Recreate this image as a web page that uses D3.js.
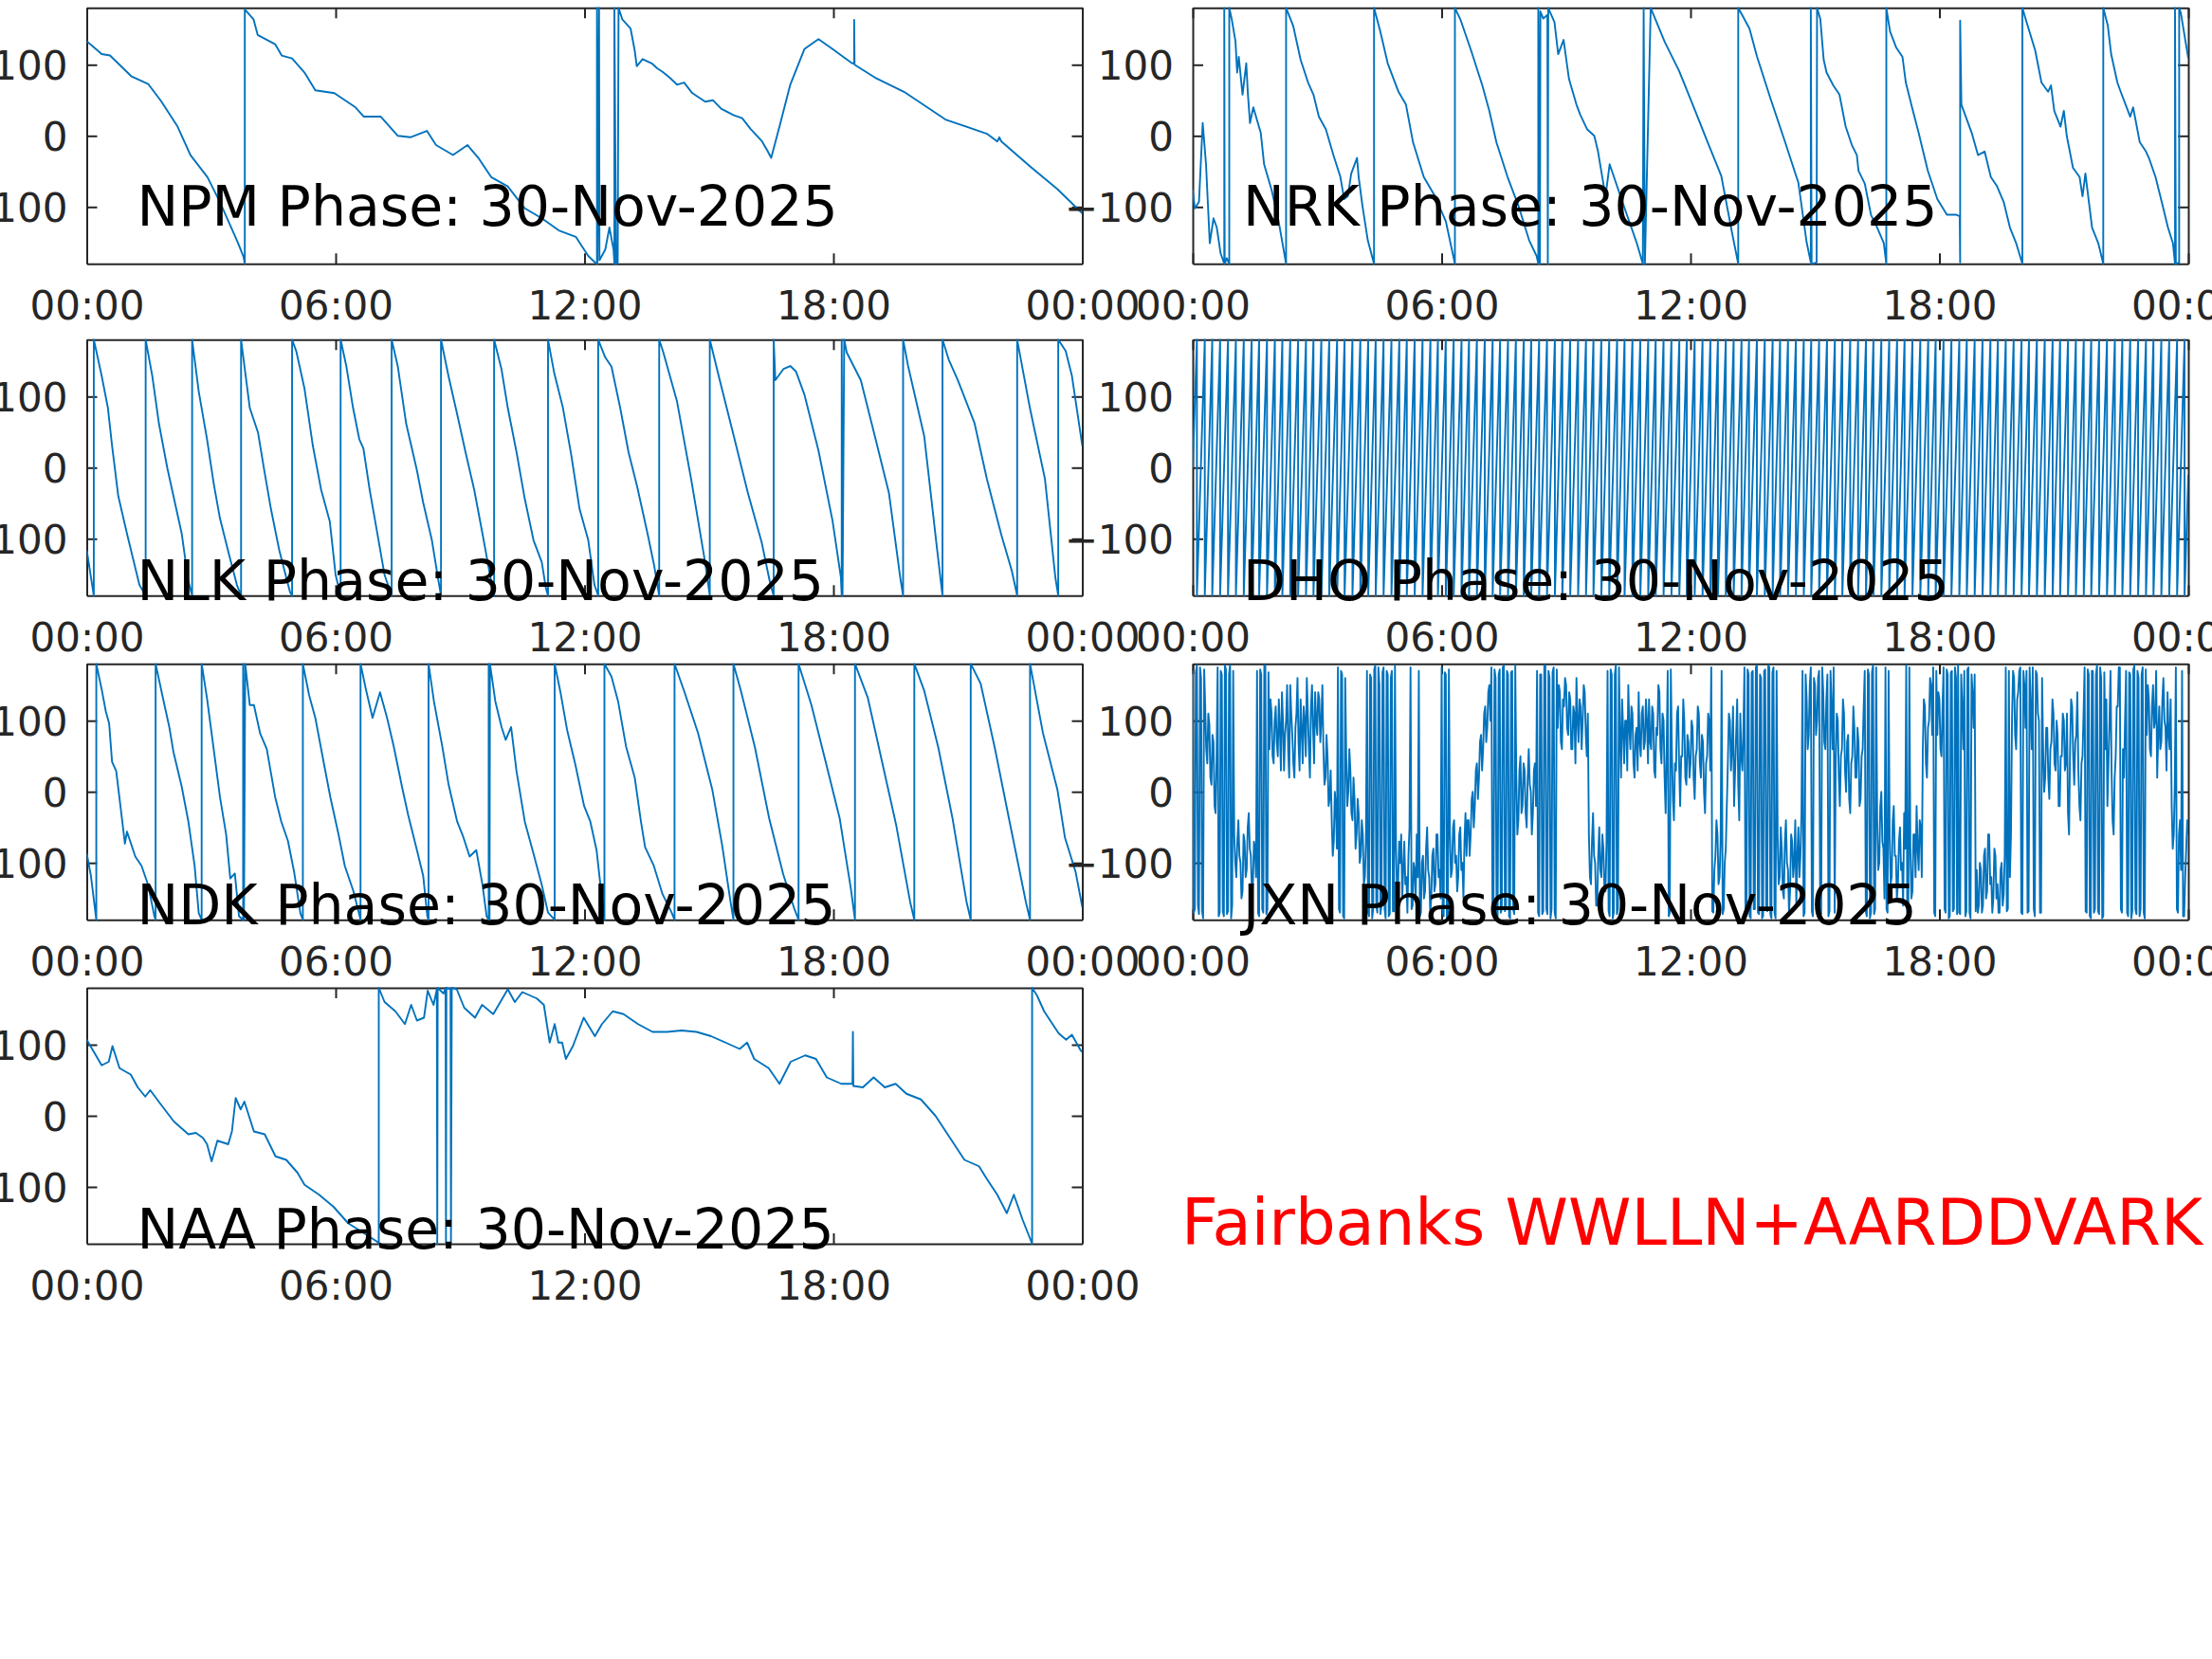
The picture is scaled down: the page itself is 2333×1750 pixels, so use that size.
<!DOCTYPE html>
<html>
<head>
<meta charset="utf-8">
<script src="https://cdn.jsdelivr.net/npm/d3@7"></script>
<style>
  body { margin: 0; background: #fff; }
  svg { display: block; }
  text { font-family: "DejaVu Sans", sans-serif; }
</style>
</head>
<body>
<svg id="fig" width="2333" height="1750"></svg>
<script>
// phase readings, [hour, degrees]
const npm = [[0,133],[0.36,115],[0.56,113],[1.07,84],[1.48,73],[1.79,49],[2.19,13],[2.5,-27],[2.91,-58],[3.21,-93],[3.62,-147],[3.78,-170],[3.81,-180],[3.81,178],[4.02,164],[4.12,142],[4.54,129],[4.7,113],[4.95,109],[5.25,89],[5.51,64],[5.97,60],[6.48,40],[6.68,27],[7.09,27],[7.5,0],[7.8,-2],[8.2,7],[8.42,-13],[8.83,-27],[9.18,-13],[9.44,-31],[9.75,-58],[10.15,-71],[10.56,-102],[10.97,-116],[11.38,-133],[11.79,-142],[12.09,-169],[12.25,-178],[12.3,-180],[12.3,180],[12.31,-180],[12.35,180],[12.36,-175],[12.5,-160],[12.6,-129],[12.7,-160],[12.72,-180],[12.72,180],[12.76,-180],[12.8,-178],[12.82,180],[12.91,164],[13.11,151],[13.21,120],[13.26,98],[13.4,108],[13.62,102],[13.75,95],[13.88,90],[14.05,82],[14.23,72],[14.4,75],[14.6,60],[14.91,48],[15.1,50],[15.3,38],[15.6,29],[15.8,25],[16.0,10],[16.27,-7],[16.4,-20],[16.5,-31],[16.7,13],[16.96,72],[17.3,122],[17.64,136],[17.98,122],[18.45,102],[18.5,102],[18.5,163],[18.51,100],[19.0,82],[19.7,62],[20.7,23],[21.7,3],[21.95,-8],[22.0,-2],[22.05,-8],[22.74,-43],[23.4,-75],[24,-109]]

const nrk = [[0,-76],[0.05,-102],[0.15,-93],[0.24,18],[0.32,-40],[0.41,-151],[0.5,-116],[0.58,-129],[0.67,-165],[0.76,-180],[0.76,180],[0.77,-180],[0.82,-172],[0.88,-180],[0.88,180],[0.94,164],[1.03,133],[1.07,89],[1.11,111],[1.2,58],[1.29,102],[1.33,58],[1.38,18],[1.46,40],[1.64,4],[1.72,-40],[1.9,-76],[2.07,-120],[2.25,-180],[2.25,180],[2.42,155],[2.6,107],[2.78,75],[2.91,58],[3.04,27],[3.21,9],[3.39,-27],[3.56,-58],[3.65,-89],[3.74,-85],[3.82,-53],[3.96,-31],[4.0,-58],[4.09,-98],[4.22,-147],[4.37,-180],[4.37,180],[4.52,147],[4.7,102],[4.96,62],[5.14,44],[5.31,-9],[5.57,-58],[5.84,-85],[6.1,-120],[6.32,-180],[6.32,180],[6.45,164],[6.71,120],[6.98,71],[7.15,35],[7.32,-9],[7.59,-58],[7.85,-98],[8.11,-147],[8.29,-169],[8.33,-180],[8.33,180],[8.37,-180],[8.38,175],[8.45,165],[8.55,170],[8.56,-180],[8.57,180],[8.72,160],[8.81,115],[8.94,135],[9.07,80],[9.25,44],[9.34,30],[9.51,9],[9.68,0],[9.77,-22],[9.95,-85],[10.05,-40],[10.4,-100],[10.7,-150],[10.85,-180],[10.87,180],[10.9,-180],[11.04,180],[11.38,132],[11.72,92],[12.06,43],[12.4,-7],[12.74,-56],[13.0,-136],[13.15,-180],[13.15,180],[13.42,151],[13.6,112],[13.93,52],[14.27,-7],[14.6,-66],[14.8,-150],[14.9,-178],[14.9,180],[14.92,-180],[15.04,-178],[15.05,180],[15.13,164],[15.21,107],[15.28,89],[15.44,71],[15.59,58],[15.74,13],[15.89,-13],[16.01,-27],[16.05,-49],[16.2,-67],[16.35,-111],[16.5,-129],[16.66,-151],[16.72,-180],[16.72,180],[16.81,147],[16.96,124],[17.11,111],[17.19,75],[17.34,40],[17.5,4],[17.72,-49],[17.95,-89],[18.18,-111],[18.41,-111],[18.49,-113],[18.5,-178],[18.5,162],[18.53,44],[18.78,4],[18.93,-27],[19.09,-22],[19.24,-58],[19.39,-71],[19.55,-93],[19.7,-129],[19.85,-151],[20.0,-180],[20.0,180],[20.08,164],[20.31,120],[20.46,75],[20.62,62],[20.69,71],[20.77,35],[20.92,13],[21.0,35],[21.07,0],[21.22,-45],[21.38,-58],[21.45,-85],[21.52,-53],[21.68,-129],[21.83,-151],[21.95,-180],[21.95,180],[22.06,155],[22.14,115],[22.29,75],[22.37,62],[22.6,27],[22.67,40],[22.83,-9],[22.98,-22],[23.05,-31],[23.21,-58],[23.36,-93],[23.51,-129],[23.63,-151],[23.68,-180],[23.68,180],[23.7,-180],[23.78,-178],[23.78,180],[23.82,173],[24,109]]

const nlk = [[0,-116],[0.17,-180],[0.17,180],[0.36,129],[0.51,84],[0.61,31],[0.76,-40],[0.97,-93],[1.27,-165],[1.42,-180],[1.42,180],[1.58,129],[1.74,62],[1.94,0],[2.09,-40],[2.29,-93],[2.45,-160],[2.54,-180],[2.54,180],[2.7,107],[2.9,40],[3.06,-22],[3.21,-71],[3.42,-120],[3.62,-165],[3.72,-180],[3.72,180],[3.93,84],[4.13,49],[4.28,-4],[4.44,-58],[4.64,-116],[4.9,-175],[4.95,-180],[4.95,180],[5.05,164],[5.25,111],[5.45,31],[5.65,-31],[5.86,-76],[6.0,-151],[6.12,-180],[6.12,180],[6.26,142],[6.42,84],[6.57,40],[6.67,27],[6.82,-31],[6.98,-84],[7.18,-151],[7.35,-180],[7.35,180],[7.5,142],[7.7,62],[7.96,-4],[8.11,-49],[8.32,-102],[8.47,-156],[8.54,-180],[8.54,180],[8.72,129],[8.93,75],[9.13,22],[9.34,-31],[9.54,-93],[9.75,-160],[9.82,-180],[9.82,180],[10.0,138],[10.15,84],[10.36,22],[10.56,-44],[10.77,-102],[10.97,-133],[11.07,-170],[11.12,-180],[11.12,180],[11.27,133],[11.48,84],[11.68,18],[11.88,-58],[12.09,-102],[12.24,-165],[12.33,-180],[12.33,180],[12.5,155],[12.65,142],[12.86,84],[13.06,22],[13.27,-27],[13.52,-93],[13.68,-138],[13.8,-180],[13.8,180],[13.9,162],[14.23,93],[14.57,-16],[14.91,-134],[15.02,-180],[15.02,180],[15.26,123],[15.6,44],[15.94,-36],[16.27,-105],[16.48,-164],[16.56,-180],[16.56,180],[16.6,123],[16.8,139],[16.96,143],[17.1,135],[17.3,103],[17.64,24],[17.98,-75],[18.18,-154],[18.2,-180],[18.2,180],[18.22,-180],[18.26,180],[18.32,162],[18.66,123],[19.0,44],[19.34,-36],[19.61,-154],[19.68,-180],[19.68,180],[19.8,143],[20.19,44],[20.5,-115],[20.63,-180],[20.63,180],[20.78,152],[21.0,123],[21.4,63],[21.7,-16],[22.05,-95],[22.3,-145],[22.43,-180],[22.43,180],[22.74,83],[23.1,-16],[23.35,-154],[23.42,-180],[23.42,180],[23.6,164],[23.75,129],[24,31]]

const ndk = [[0,-87],[0.1,-118],[0.23,-180],[0.23,180],[0.36,144],[0.46,113],[0.54,96],[0.61,42],[0.71,29],[0.82,-24],[0.92,-73],[0.97,-56],[1.17,-91],[1.32,-104],[1.48,-131],[1.63,-175],[1.66,-180],[1.66,180],[1.84,131],[1.99,91],[2.09,56],[2.29,7],[2.45,-42],[2.6,-104],[2.7,-171],[2.77,-180],[2.77,180],[2.9,131],[3.06,60],[3.21,-7],[3.36,-60],[3.46,-122],[3.57,-115],[3.67,-175],[3.77,-180],[3.77,180],[3.79,-180],[3.82,180],[3.93,122],[4.03,122],[4.18,82],[4.34,60],[4.54,-7],[4.69,-42],[4.85,-69],[5.0,-113],[5.15,-171],[5.21,-180],[5.21,180],[5.36,136],[5.51,104],[5.71,42],[5.87,-7],[6.07,-60],[6.22,-104],[6.43,-140],[6.58,-175],[6.6,-180],[6.6,180],[6.73,144],[6.89,104],[7.07,140],[7.24,104],[7.4,64],[7.6,7],[7.75,-33],[7.96,-82],[8.11,-118],[8.21,-175],[8.24,-180],[8.24,180],[8.37,127],[8.57,64],[8.72,11],[8.93,-42],[9.08,-64],[9.23,-91],[9.39,-82],[9.54,-131],[9.64,-175],[9.69,-180],[9.69,180],[9.71,-180],[9.72,180],[9.85,127],[10.0,91],[10.1,73],[10.23,91],[10.36,29],[10.56,-42],[10.77,-87],[10.97,-131],[11.12,-170],[11.28,-180],[11.28,180],[11.42,140],[11.58,87],[11.78,38],[11.99,-20],[12.14,-42],[12.29,-82],[12.4,-140],[12.48,-180],[12.48,180],[12.65,162],[12.81,127],[13.0,64],[13.21,20],[13.36,-42],[13.46,-78],[13.67,-104],[13.88,-144],[14.1,-170],[14.17,-180],[14.17,180],[14.4,142],[14.74,82],[15.08,3],[15.32,-76],[15.52,-155],[15.59,-180],[15.59,180],[15.77,142],[16.11,62],[16.45,-37],[16.79,-116],[17.06,-165],[17.16,-180],[17.16,180],[17.47,122],[17.81,43],[18.15,-37],[18.42,-136],[18.52,-180],[18.52,180],[18.83,132],[19.17,43],[19.51,-46],[19.85,-155],[19.95,-180],[19.95,180],[20.19,142],[20.53,62],[20.87,-37],[21.21,-155],[21.31,-180],[21.31,180],[21.55,152],[21.89,62],[22.23,-37],[22.64,-155],[22.74,-180],[22.74,180],[23.05,83],[23.4,3],[23.58,-64],[23.84,-113],[24,-162]]

const naa = [[0,107],[0.18,89],[0.36,71],[0.53,76],[0.62,98],[0.79,67],[1.06,58],[1.23,40],[1.41,27],[1.53,36],[1.76,18],[2.1,-8],[2.45,-26],[2.63,-24],[2.8,-31],[2.9,-40],[3.01,-64],[3.15,-35],[3.41,-40],[3.5,-22],[3.59,25],[3.71,9],[3.8,20],[4.03,-22],[4.29,-26],[4.55,-57],[4.81,-62],[5.08,-80],[5.25,-97],[5.6,-111],[5.95,-128],[6.3,-151],[6.65,-164],[7.0,-177],[7.04,-180],[7.04,180],[7.18,160],[7.44,147],[7.67,129],[7.82,156],[7.96,134],[8.13,138],[8.22,176],[8.36,156],[8.44,178],[8.45,-180],[8.46,180],[8.6,172],[8.65,180],[8.66,-180],[8.67,180],[8.77,178],[8.78,-180],[8.8,180],[8.92,178],[9.1,152],[9.36,138],[9.53,156],[9.8,143],[9.97,160],[10.15,178],[10.32,160],[10.5,174],[10.85,165],[11.02,156],[11.16,103],[11.28,129],[11.37,103],[11.46,103],[11.55,80],[11.72,98],[11.98,138],[12.25,112],[12.42,129],[12.68,147],[12.94,143],[13.29,129],[13.64,118],[13.99,118],[14.34,120],[14.7,118],[15.05,112],[15.4,103],[15.74,94],[15.92,103],[16.09,80],[16.44,67],[16.7,45],[16.97,76],[17.32,85],[17.58,80],[17.84,54],[18.19,45],[18.46,45],[18.47,118],[18.48,42],[18.71,40],[18.97,54],[19.24,40],[19.5,45],[19.76,31],[20.11,23],[20.46,0],[20.81,-31],[21.16,-62],[21.51,-71],[21.69,-88],[21.95,-111],[22.18,-137],[22.35,-111],[22.56,-146],[22.79,-180],[22.79,180],[22.91,169],[23.08,147],[23.43,116],[23.61,107],[23.75,114],[23.96,92],[24,90]]

const dhoStartPhase = 0
const dhoEndPhase = -10
const dhoWraps = [0.10,0.29,0.47,0.66,0.85,1.04,1.23,1.42,1.60,1.79,1.98,2.16,2.35,2.54,2.73,2.91,3.10,3.29,3.48,3.66,3.85,4.04,4.23,4.41,4.60,4.79,4.98,5.16,5.35,5.54,5.73,5.91,6.10,6.29,6.48,6.66,6.85,7.04,7.23,7.41,7.60,7.79,7.98,8.16,8.35,8.54,8.73,8.91,9.10,9.29,9.48,9.66,9.85,10.04,10.23,10.41,10.60,10.79,10.98,11.16,11.35,11.54,11.73,11.91,12.10,12.29,12.48,12.66,12.85,13.04,13.23,13.41,13.60,13.79,13.98,14.16,14.35,14.54,14.73,14.91,15.10,15.29,15.48,15.66,15.85,16.04,16.23,16.41,16.60,16.79,16.98,17.16,17.35,17.54,17.73,17.91,18.10,18.29,18.48,18.66,18.85,19.04,19.23,19.41,19.60,19.79,19.98,20.16,20.35,20.54,20.73,20.91,21.10,21.29,21.48,21.66,21.85,22.04,22.23,22.41,22.60,22.79,22.98,23.16,23.35,23.54,23.73,23.91]

// JXN: samples every 0.025 h, one row per hour
const jxnStep = 0.025
const jxnPhase = [
  170,-170,-165,168,178,-160,-172,175,160,-168,-178,172,120,60,40,110,95,20,10,80,70,-20,-30,50,175,-175,-170,170,165,-168,-175,178,172,-172,-168,165,178,-178,-160,170,
  -60,-100,-120,-70,-40,-90,-100,-150,-140,-60,-70,-120,-110,-50,-30,-80,-90,-140,-130,-70,-80,-120,170,-170,-175,172,165,-165,-170,178,178,-172,-165,168,60,130,110,50,40,100,
  120,70,50,130,90,30,140,100,30,80,100,150,60,20,150,110,80,40,20,90,110,160,70,30,130,90,40,120,100,50,160,110,60,20,120,150,90,40,140,100,
  80,140,130,70,100,150,60,10,20,80,50,-20,-10,30,-40,-90,-70,0,-20,-80,175,-165,-170,170,165,-175,-178,160,50,-20,0,60,30,-30,-40,20,-10,-80,-60,-10,
  -30,-100,-90,-40,-60,-130,-120,-70,170,-170,-175,165,160,-178,-165,172,178,-160,-170,175,150,-172,-160,168,175,-165,-178,170,165,-175,-172,160,170,-168,-168,178,-80,-140,-130,-70,
  -100,-60,-150,-110,-70,-130,-120,-170,-90,-50,175,-165,-160,-100,-110,-150,-60,-120,170,-175,-170,-100,-90,-150,-140,-80,-50,-110,-120,-170,-150,-90,-80,-140,-130,-60,-60,-120,-110,-150,
  175,-170,-175,168,165,-178,-170,172,-60,-120,-110,-50,-40,-100,-90,-140,-120,-60,-50,-110,-100,-150,-70,-30,-90,-40,-40,-90,-60,-10,0,-50,-20,30,40,-10,20,70,80,30,
  60,110,120,70,90,140,150,100,175,-165,-170,172,160,-178,-175,165,172,-170,-165,175,178,-168,-160,170,165,-175,-178,168,170,-165,-172,178,20,-60,-40,30,50,-30,-20,40,
  30,-30,-50,20,60,10,0,-60,-30,30,40,-20,170,-170,-175,165,165,-172,-168,178,178,-165,-172,170,160,-178,-165,168,175,-170,-178,172,90,150,140,70,60,130,120,160,
  150,90,80,140,130,60,60,120,110,40,160,100,70,130,120,60,100,150,140,80,50,110,-60,-120,-130,-70,-30,-90,-100,-160,-160,-90,-50,-110,-120,-60,-80,-140,-140,-70,
  170,-168,-175,172,165,-178,-170,165,178,-172,-165,175,80,20,130,90,40,100,100,30,150,90,60,120,110,40,20,80,90,30,140,70,50,110,120,60,70,130,100,40,
  130,70,60,120,110,30,20,90,80,150,140,60,40,110,100,20,-30,60,170,-175,-170,172,60,-10,-40,40,30,110,120,40,-20,50,50,130,100,20,10,80,70,20,
  40,100,90,20,-10,50,60,120,110,40,20,80,70,0,-30,40,50,110,100,30,175,-168,-170,-110,-90,-40,-60,-130,-120,-70,170,-172,-165,-100,-80,-20,40,110,100,30,
  60,120,-20,30,80,130,10,-40,110,50,30,90,175,-170,-170,172,165,-175,-178,168,170,-165,-165,175,178,-170,-172,165,160,-178,-175,170,172,-165,-168,178,175,-172,-178,168,
  175,-170,-178,170,-60,-130,-120,-50,-80,-140,-150,-70,-40,-100,-110,-170,-140,-60,-70,-120,-100,-40,-160,-90,-50,-120,-90,-30,170,-175,-170,165,130,60,80,150,175,-168,-175,160,
  150,80,100,160,170,-165,-172,175,140,70,60,130,165,-175,-168,170,120,60,175,-170,40,110,100,20,-20,50,60,130,110,30,0,70,80,-10,-30,40,50,120,90,20,
  20,90,70,-20,-10,50,60,120,170,-168,-175,172,165,-178,-170,168,178,-172,-165,175,-40,-110,-100,-20,0,-70,-80,-150,175,-165,-170,170,-60,-130,-120,-40,-20,-90,-90,-150,
  -130,-70,-50,-110,-100,-160,-30,-80,178,-170,-172,175,-80,-150,-140,-60,-60,-120,-20,-80,-110,-40,-50,-120,60,130,120,40,20,90,100,160,150,80,175,-170,-175,170,80,140,
  130,60,50,120,175,-165,-170,172,165,-178,-175,168,170,-168,-165,175,160,-172,178,-170,-172,165,120,60,170,-175,-168,172,175,-170,-178,165,140,90,165,-168,-110,-170,-160,-100,
  -110,-170,-160,-90,-80,-150,-140,-60,-60,-130,-120,-170,-150,-80,-90,-150,-130,-170,-170,-110,-100,-160,-145,-90,175,-168,-165,170,-120,-60,100,170,160,80,60,130,140,170,175,-170,
  -172,170,150,90,170,-170,-168,175,120,60,175,-165,-175,170,165,110,100,-170,-170,160,60,0,20,90,90,20,-10,60,70,130,110,40,30,100,80,-20,-20,50,50,110,
  100,30,40,110,-30,-60,60,130,120,50,10,70,80,140,30,-20,-40,40,50,110,175,-168,-170,172,165,-175,-178,170,170,-170,-165,165,178,-168,-172,175,160,-178,-175,168,
  60,130,-20,40,100,170,30,-40,-60,20,50,120,120,175,175,-165,-170,60,20,100,170,-170,-175,168,165,-178,-168,172,178,-165,-172,170,160,-175,-165,165,175,-170,-178,172,
  80,150,130,60,50,120,150,90,100,170,20,80,120,60,70,130,160,100,90,30,140,80,60,130,-20,-80,-60,10,175,-165,-170,-60,-40,-110,170,-175,-175,-120,-80,-40,
  -60
]

const hourTicks = [0, 6, 12, 18, 24]
const phaseTicks = [-100, 0, 100]
const dateText = '30-Nov-2025'
const footer = 'Fairbanks WWLLN+AARDDVARK'

const dho = [[0, dhoStartPhase]]
dhoWraps.forEach(w => { dho.push([w, 180]); dho.push([w, -180]) })
dho.push([24, dhoEndPhase])

const jxn = jxnPhase.map((v, i) => [i * jxnStep, v])

const stations = [
  { name: 'NPM', data: npm, col: 0, row: 0 },
  { name: 'NRK', data: nrk, col: 1, row: 0 },
  { name: 'NLK', data: nlk, col: 0, row: 1 },
  { name: 'DHO', data: dho, col: 1, row: 1 },
  { name: 'NDK', data: ndk, col: 0, row: 2 },
  { name: 'JXN', data: jxn, col: 1, row: 2 },
  { name: 'NAA', data: naa, col: 0, row: 3 }
]

// layout (px)
const W = 1050, H = 270
const colLeft = [91.5, 1258]
const rowMid = [143.3, 493.3, 835.2, 1177]
const titleDrop = [95, 140, 140, 140]
const axisColor = '#262626'
const lineColor = '#0072BD'

const svg = d3.select('#fig')
svg.append('rect').attr('width', 2333).attr('height', 1750).attr('fill', '#fff')

const fmtHour = h => String(h % 24).padStart(2, '0') + ':00'

function drawPanel(st, i) {
  const left = colLeft[st.col]
  const top = rowMid[st.row] - H / 2

  const x = d3.scaleLinear().domain([0, 24]).range([left, left + W])
  const y = d3.scaleLinear().domain([-180, 180]).range([top + H, top])

  const g = svg.append('g')

  const styleAxis = sel => {
    sel.select('.domain').attr('stroke', axisColor).attr('stroke-width', 2)
    sel.selectAll('.tick line').attr('stroke', axisColor).attr('stroke-width', 2)
    sel.selectAll('.tick text')
      .attr('fill', axisColor)
      .attr('font-size', '42px')
      .attr('font-family', '"DejaVu Sans", sans-serif')
  }

  g.append('g')
    .attr('transform', `translate(0,${top + H})`)
    .call(d3.axisBottom(x).tickValues(hourTicks).tickFormat(fmtHour)
      .tickSizeInner(-11).tickSizeOuter(0).tickPadding(29))
    .call(styleAxis)

  g.append('g')
    .attr('transform', `translate(0,${top})`)
    .call(d3.axisTop(x).tickValues(hourTicks).tickFormat('')
      .tickSizeInner(-11).tickSizeOuter(0))
    .call(styleAxis)

  g.append('g')
    .attr('transform', `translate(${left},0)`)
    .call(d3.axisLeft(y).tickValues(phaseTicks).tickFormat(d3.format('d'))
      .tickSizeInner(-11).tickSizeOuter(0).tickPadding(20))
    .call(styleAxis)
    .selectAll('.tick text').attr('dy', '0.36em')

  g.append('g')
    .attr('transform', `translate(${left + W},0)`)
    .call(d3.axisRight(y).tickValues(phaseTicks).tickFormat('')
      .tickSizeInner(-11).tickSizeOuter(0))
    .call(styleAxis)

  const clipId = 'clip' + i
  svg.append('clipPath').attr('id', clipId)
    .append('rect')
    .attr('x', left).attr('y', top - 1)
    .attr('width', W).attr('height', H + 2)

  const line = d3.line().x(d => x(d[0])).y(d => y(d[1]))

  g.append('path')
    .datum(st.data)
    .attr('clip-path', `url(#${clipId})`)
    .attr('fill', 'none')
    .attr('stroke', lineColor)
    .attr('stroke-width', 1.9)
    .attr('stroke-linejoin', 'round')
    .attr('d', line)

  g.append('text')
    .attr('x', left + 53)
    .attr('y', rowMid[st.row] + titleDrop[st.row])
    .attr('font-size', '58.5px')
    .attr('fill', '#000')
    .text(`${st.name} Phase: ${dateText}`)
}

stations.forEach(drawPanel)

svg.append('text')
  .attr('x', 1246)
  .attr('y', 1313)
  .attr('font-size', '67.2px')
  .attr('fill', '#ff0000')
  .text(footer)
</script>
</body>
</html>
